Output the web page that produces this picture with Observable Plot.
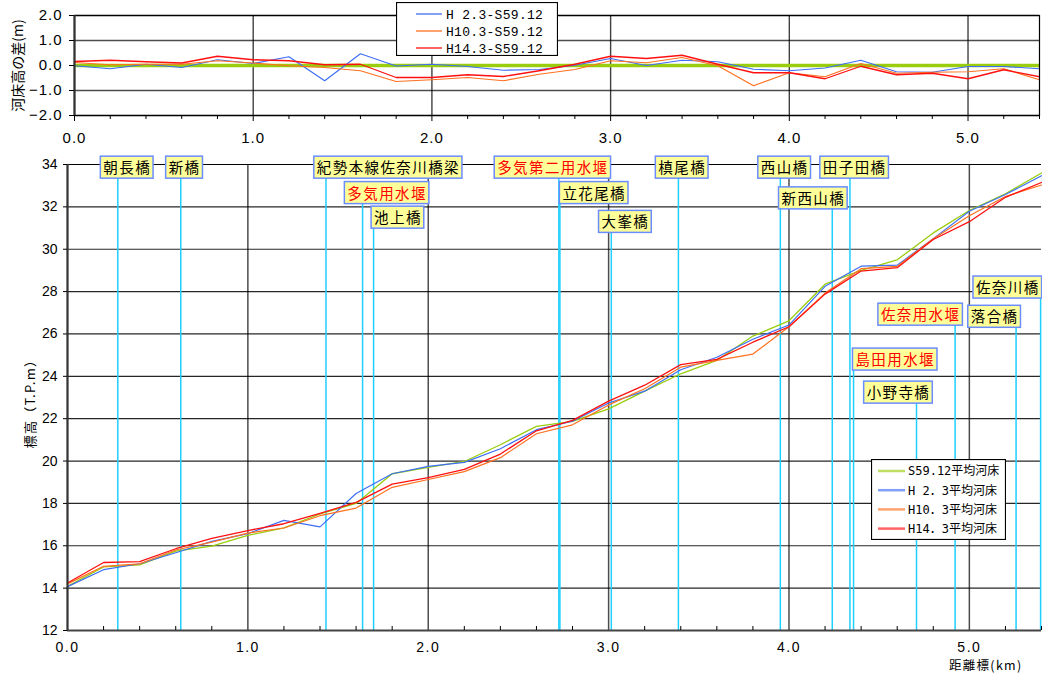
<!DOCTYPE html>
<html lang="ja">
<head>
<meta charset="utf-8">
<script src="https://cdn.jsdelivr.net/npm/d3@7"></script>
<script src="https://cdn.jsdelivr.net/npm/@observablehq/plot@0.6"></script>
<style>
html,body{margin:0;padding:0;background:#fff;}
#wrap{position:relative;width:1042px;height:675px;overflow:hidden;font-family:"Liberation Sans",Arial,sans-serif;}
#topc,#botc{position:absolute;left:0;}
#topc{top:0;}
#botc{top:150px;}
#topc g[aria-label="x-axis tick label"] text,#topc g[aria-label="y-axis tick label"] text{letter-spacing:1px;}
#botc g[aria-label="x-axis tick label"] text{letter-spacing:1.5px;}
</style>
</head>
<body>
<div id="wrap"><div id="topc"></div><div id="botc"></div></div>
<script>
// ---- data ----
const km = [0,0.2,0.4,0.6,0.8,1.0,1.2,1.4,1.6,1.8,2.0,2.2,2.4,2.6,2.8,3.0,3.2,3.4,3.6,3.8,4.0,4.2,4.4,4.6,4.8,5.0,5.2,5.4];
const s59 = [14.08,15.0,15.1,15.75,15.98,16.49,16.85,17.5,18.0,19.4,19.7,19.98,20.77,21.64,21.87,22.46,23.3,24.12,24.75,25.9,26.62,28.35,29.0,29.5,30.77,31.83,32.62,33.6];
const h02 = [14.07,14.87,15.15,15.67,16.21,16.57,17.2,16.89,18.47,19.4,19.75,19.94,20.58,21.48,21.88,22.74,23.3,24.31,24.9,25.75,26.42,28.25,29.2,29.25,30.5,31.79,32.58,33.47];
const h10 = [14.2,15.03,15.15,15.8,16.17,16.6,16.84,17.42,17.78,18.76,19.13,19.5,20.16,21.29,21.71,22.65,23.41,24.43,24.75,25.05,26.34,27.93,29.08,29.19,30.5,31.58,32.49,33.03];
const h14 = [14.24,15.21,15.25,15.86,16.35,16.72,17.04,17.53,18.05,18.91,19.22,19.61,20.33,21.43,21.92,22.83,23.58,24.55,24.8,25.61,26.34,27.88,28.97,29.13,30.46,31.3,32.45,33.15];
const d02 = [-0.01,-0.13,0.05,-0.08,0.23,0.08,0.35,-0.61,0.47,-0.02,0.05,-0.04,-0.19,-0.16,0.01,0.28,0.0,0.21,0.15,-0.15,-0.21,-0.1,0.21,-0.25,-0.27,-0.04,-0.04,-0.13];
const d10 = [0.12,0.03,0.05,0.05,0.19,0.1,-0.01,-0.08,-0.21,-0.64,-0.57,-0.48,-0.61,-0.35,-0.16,0.19,0.11,0.32,-0.01,-0.81,-0.29,-0.45,0.08,-0.31,-0.27,-0.25,-0.13,-0.57];
const d14 = [0.16,0.21,0.15,0.1,0.37,0.23,0.19,0.03,0.05,-0.48,-0.48,-0.37,-0.44,-0.21,0.05,0.37,0.28,0.41,0.05,-0.29,-0.29,-0.53,-0.03,-0.37,-0.31,-0.53,-0.17,-0.45];
const diffNames = ["H 2.3-S59.12","H10.3-S59.12","H14.3-S59.12"];
const bedNames = ["S59.12平均河床","H 2．3平均河床","H10．3平均河床","H14．3平均河床"];

const structNames = ["朝長橋","新橋","紀勢本線佐奈川橋梁","多気用水堰","池上橋","多気第二用水堰","立花尾橋","大峯橋","槙尾橋","西山橋","新西山橋","田子田橋","島田用水堰","小野寺橋","佐奈用水堰","落合橋","佐奈川橋"];
const structType  = ["bridge","bridge","bridge","weir","bridge","weir","bridge","bridge","bridge","bridge","bridge","bridge","weir","bridge","weir","bridge","bridge"];
const structKm    = [0.279,0.628,1.433,1.636,1.697,2.724,2.73,3.015,3.387,3.952,4.24,4.338,4.358,4.707,4.921,5.259,5.395];
const labelKm     = [0.331,0.649,1.779,1.772,1.832,2.691,2.920,3.093,3.408,3.976,4.135,4.364,4.589,4.607,4.730,5.140,5.213];
const labelElev   = [33.81,33.81,33.81,32.61,31.45,33.81,32.61,31.25,33.81,33.81,32.36,33.81,24.75,23.19,26.87,26.77,28.15];

const xMajor = [0,1,2,3,4,5];
const xMinor = [0.2,0.4,0.6,0.8,1.2,1.4,1.6,1.8,2.2,2.4,2.6,2.8,3.2,3.4,3.6,3.8,4.2,4.4,4.6,4.8,5.2,5.4];
const yTicksTop = [-2,-1,0,1,2];
const yTicksBot = [12,14,16,18,20,22,24,26,28,30,32,34];
const titleTopY = "河床高の差(m)";
const titleBotY = "標高（T.P.m）";
const titleX = "距離標(km)";

// ---- styles ----
const cGreen = "#9acd0e", cBlue = "#3d6ef5", cOrange = "#ff7020", cRed = "#ff1010", cCyan = "#1fcfff";
const f1 = d3.format(".1f");

// ---- top chart ----
const topChart = Plot.plot({
  width: 1042, height: 150,
  marginLeft: 74, marginRight: 3, marginTop: 15, marginBottom: 35,
  x: {domain: [0, 5.4], label: null},
  y: {domain: [-2, 2], label: null},
  style: {fontFamily: "Liberation Sans, Arial, sans-serif", fontSize: "15px", background: "transparent", color: "#000"},
  marks: [
    Plot.gridX({ticks: xMajor, stroke: "#000", strokeOpacity: 0.75, strokeWidth: 1.4}),
    Plot.gridY({ticks: yTicksTop, stroke: "#000", strokeOpacity: 0.7, strokeWidth: 1.3}),
    Plot.ruleY([0], {stroke: cGreen, strokeWidth: 3.5}),
    Plot.line(km, {x: km, y: d02, stroke: cBlue, strokeWidth: 1.2}),
    Plot.line(km, {x: km, y: d10, stroke: cOrange, strokeWidth: 1.2}),
    Plot.line(km, {x: km, y: d14, stroke: cRed, strokeWidth: 1.3}),
    Plot.frame({stroke: "#000", strokeWidth: 1.2}),
    Plot.ruleX([0], {stroke: "#333", strokeWidth: 2}),
    Plot.axisY({ticks: yTicksTop, tickSize: 5, tickPadding: 7, tickFormat: f1, fontSize: 15, label: null}),
    Plot.axisX({ticks: xMinor, tickSize: 4, tickFormat: () => "", label: null}),
    Plot.axisX({ticks: xMajor, tickSize: 6, tickPadding: 11, tickFormat: f1, fontSize: 15, label: null}),
    Plot.text([titleTopY], {frameAnchor: "left", textAnchor: "middle", dx: -56, rotate: -90, text: d => d, fontSize: 14, fontFamily: "Noto Sans CJK JP"})
  ]
});
document.getElementById("topc").appendChild(topChart);

// ---- bottom chart ----
const structs = structNames.map((n, i) => ({name: n, type: structType[i], km: structKm[i], lx: labelKm[i], ly: labelElev[i]}));
const botChart = Plot.plot({
  width: 1042, height: 525,
  marginLeft: 67, marginRight: 1, marginTop: 14, marginBottom: 45,
  x: {domain: [0, 5.4], label: null},
  y: {domain: [12, 34], label: null},
  style: {fontFamily: "Liberation Sans, Arial, sans-serif", fontSize: "13px", background: "transparent", color: "#000"},
  marks: [
    Plot.gridY({ticks: yTicksBot, stroke: "#000", strokeOpacity: 0.85, strokeWidth: 1.2}),
    Plot.gridX({ticks: xMajor, stroke: "#000", strokeOpacity: 0.7, strokeWidth: 1.5}),
    Plot.ruleX(structs, {x: "km", y1: 12, y2: "ly", stroke: cCyan, strokeWidth: 1.5}),
    Plot.line(km, {x: km, y: s59, stroke: cGreen, strokeWidth: 1.3}),
    Plot.line(km, {x: km, y: h02, stroke: cBlue, strokeWidth: 1.2}),
    Plot.line(km, {x: km, y: h10, stroke: cOrange, strokeWidth: 1.2}),
    Plot.line(km, {x: km, y: h14, stroke: cRed, strokeWidth: 1.3}),
    Plot.ruleY([34], {stroke: "#000", strokeWidth: 1.2}),
    Plot.ruleY([12], {stroke: "#444", strokeWidth: 2}),
    Plot.ruleX([0], {stroke: "#333", strokeWidth: 2}),
    Plot.tickX(xMinor, {x: d => d, insetTop: 462, stroke: "#000"}),
    Plot.axisY({ticks: yTicksBot, tickSize: 4, tickPadding: 6, fontSize: 14, label: null}),
    Plot.axisX({ticks: xMajor, tickSize: 0, tickPadding: 12, tickFormat: f1, fontSize: 14, label: null}),
    Plot.text([titleBotY], {frameAnchor: "left", textAnchor: "middle", dx: -37, dy: 3, rotate: -90, text: d => d, fontSize: 13, fontFamily: "Noto Sans CJK JP"}),
    Plot.text([titleX], {frameAnchor: "bottom-right", textAnchor: "end", dx: -19, dy: 39, text: d => d, fontSize: 12.5, fontFamily: "Noto Sans CJK JP"}),
    Plot.text(structs.filter(d => d.type === "bridge"), {x: "lx", y: "ly", text: "name", fill: "#000", fontSize: 14.5, fontFamily: "Noto Sans CJK JP"}),
    Plot.text(structs.filter(d => d.type === "weir"), {x: "lx", y: "ly", text: "name", fill: "#ff0000", fontSize: 14.5, fontFamily: "Noto Sans CJK JP"})
  ]
});
document.getElementById("botc").appendChild(botChart);

// spacing for axis titles
d3.select(botChart).selectAll("text").filter(function() { return this.textContent === titleBotY || this.textContent === titleX; })
  .style("letter-spacing", "1.3px");

// label boxes behind the structure names
d3.select(botChart).selectAll("text").filter(function() { return structNames.includes(this.textContent); })
  .each(function() {
    const t = d3.select(this);
    t.style("letter-spacing", "1.4px");
    const b = this.getBBox();
    d3.select(this.parentNode).insert("rect", () => this)
      .attr("transform", t.attr("transform"))
      .attr("x", b.x - 3).attr("y", b.y).attr("width", b.width + 5).attr("height", b.height + 1)
      .attr("fill", "#ffff99").attr("stroke", "#6a8cff").attr("stroke-width", 1.5);
  });

// ---- legends ----
function legend(x, y, w, h, names, colors, o) {
  const svg = d3.select("#wrap").append("svg").attr("width", w).attr("height", h)
    .style("position", "absolute").style("left", x + "px").style("top", y + "px");
  svg.append("rect").attr("x", 0.5).attr("y", 0.5).attr("width", w - 1).attr("height", h - 1)
    .attr("fill", "#fff").attr("stroke", "#000").attr("stroke-width", 1.2);
  names.forEach((n, i) => {
    const cy = o.y0 + i * o.dy;
    svg.append("line").attr("x1", o.lx1).attr("x2", o.lx2).attr("y1", cy).attr("y2", cy)
      .attr("stroke", colors[i]).attr("stroke-width", o.sw).attr("stroke-opacity", o.op);
    svg.append("text").attr("x", o.tx).attr("y", cy).attr("dy", "0.36em").text(n)
      .style("font-family", o.font).style("font-size", o.fs + "px").style("letter-spacing", o.ls + "px").attr("fill", "#000");
  });
}
legend(396, 2, 162, 54, diffNames, [cBlue, cOrange, cRed],
  {y0: 12, dy: 17, lx1: 20, lx2: 46, tx: 50, sw: 1.3, op: 1, font: "Liberation Mono, DejaVu Sans Mono, monospace", fs: 13, ls: 0.3});
legend(871, 459, 135, 81, bedNames, [cGreen, cBlue, cOrange, cRed],
  {y0: 12, dy: 19.2, lx1: 7, lx2: 34, tx: 37, sw: 2.5, op: 0.65, font: "DejaVu Sans Mono, Noto Sans CJK JP, monospace", fs: 12, ls: 0});
</script>
</body>
</html>
